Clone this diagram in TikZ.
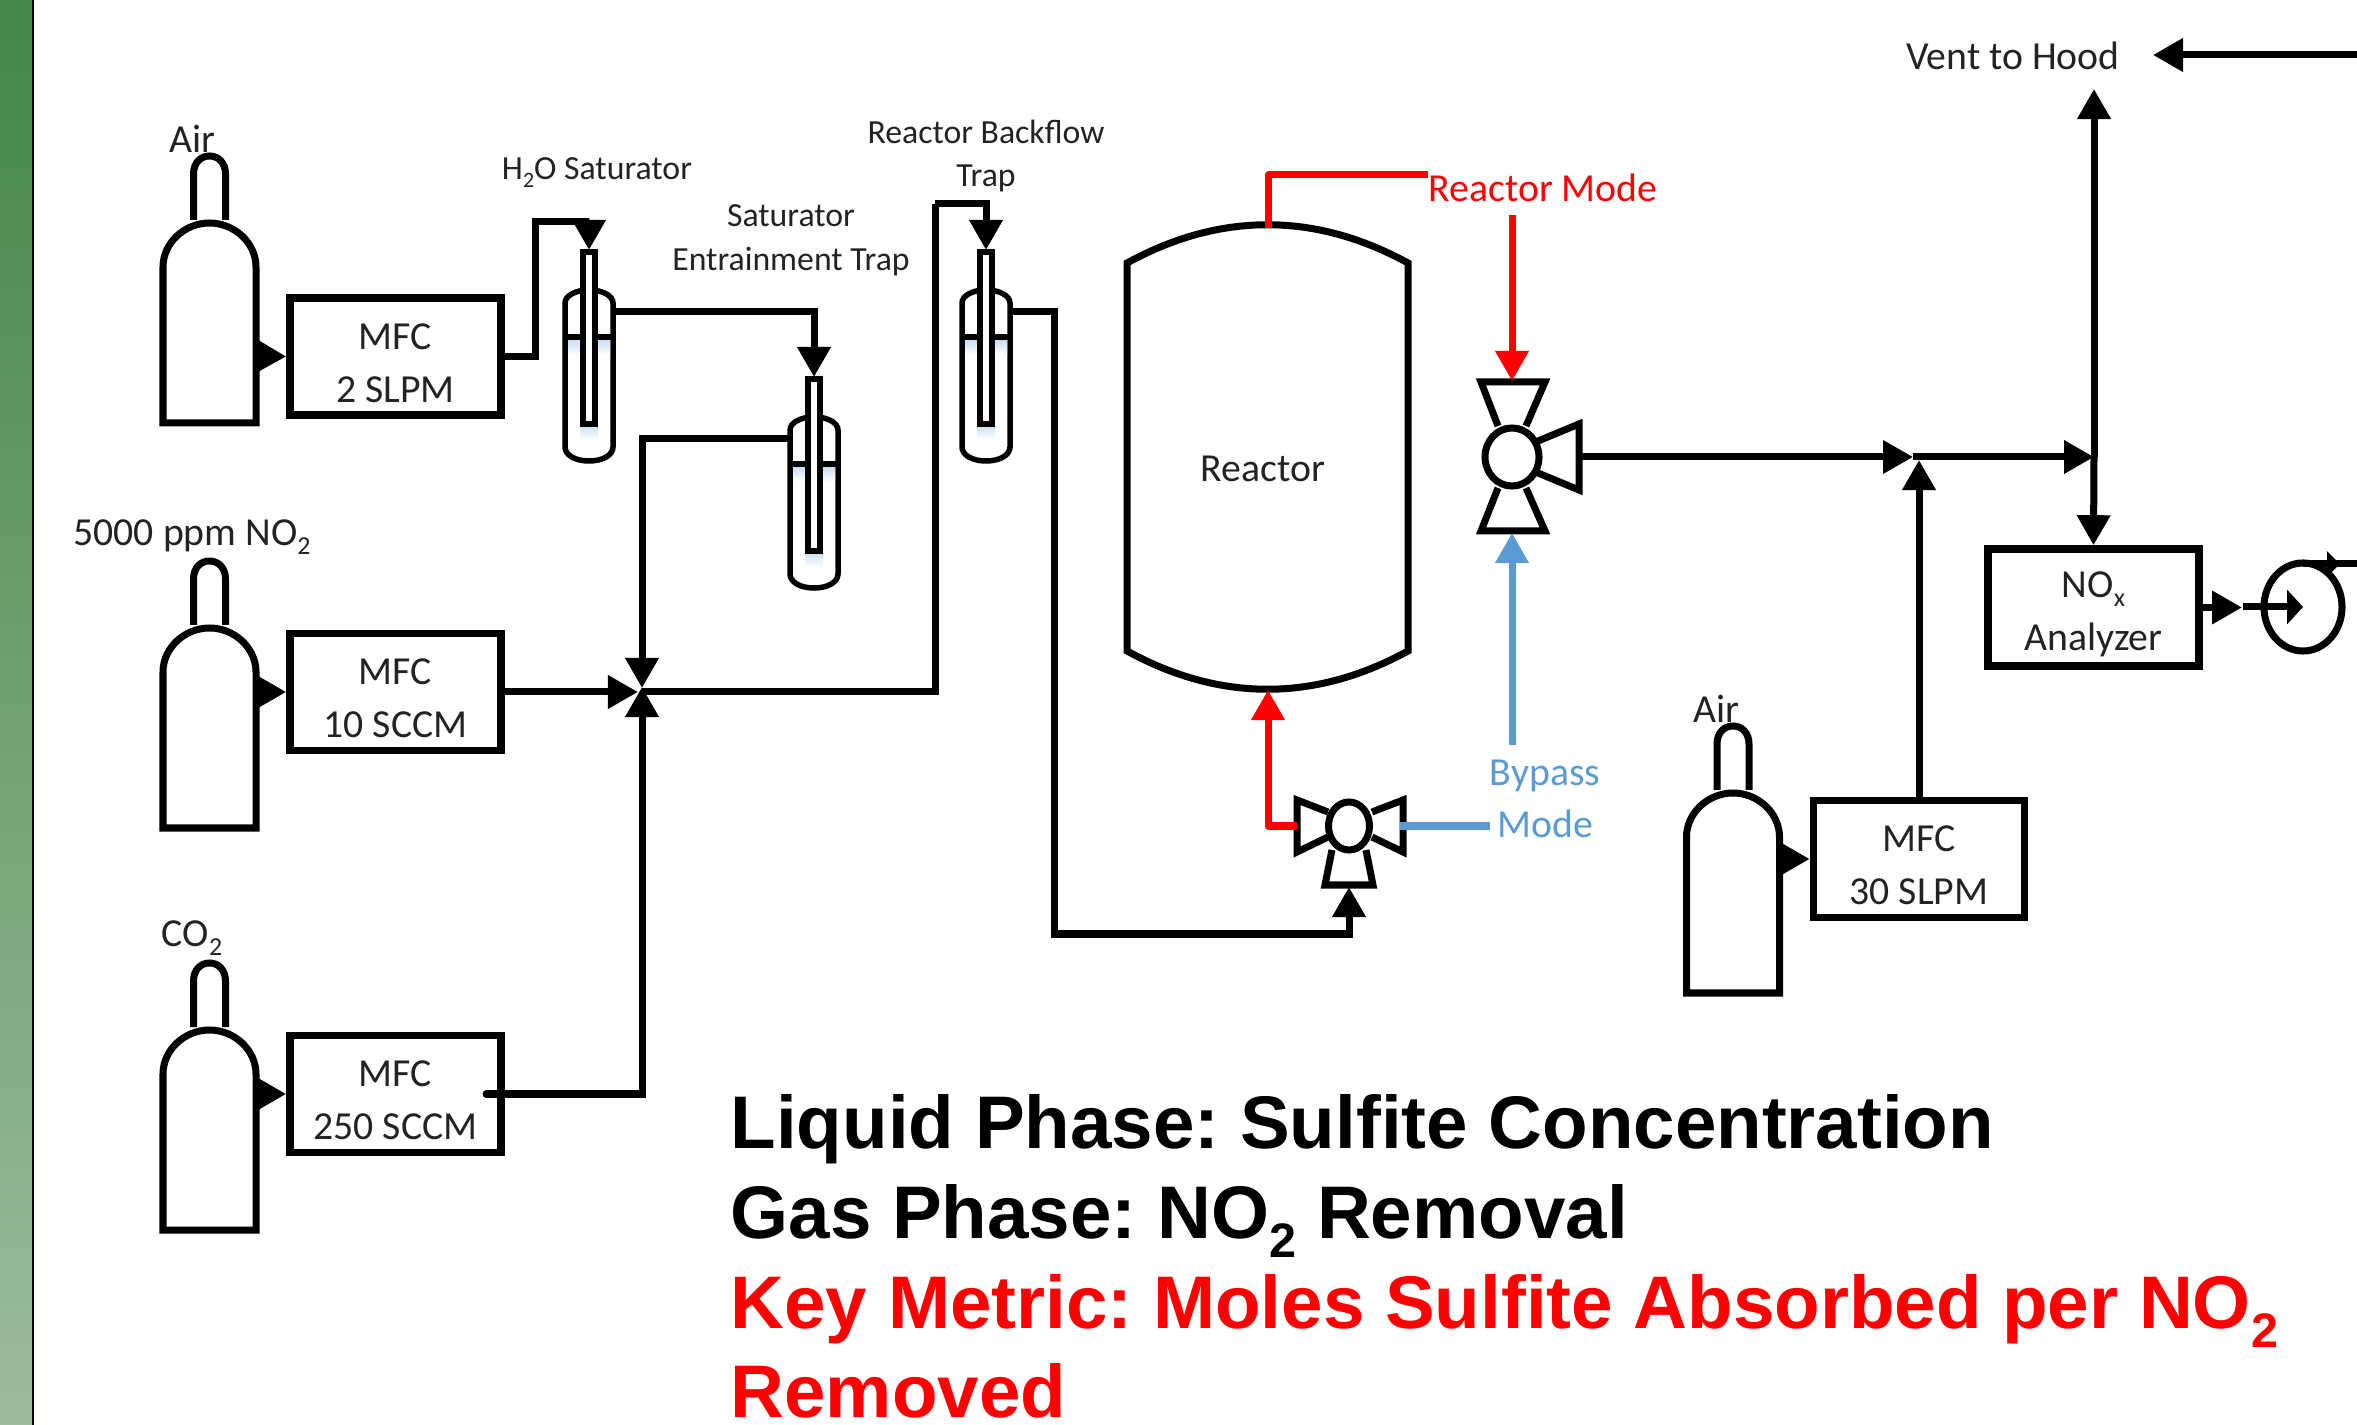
\documentclass[tikz,border=0pt]{standalone}
\usepackage{fontspec}
\setmainfont{Carlito}
\newfontfamily\arialfont{Liberation Sans}
\usetikzlibrary{arrows.meta,shapes.geometric}
\definecolor{bypass}{RGB}{91,155,213}
\definecolor{inktext}{RGB}{35,35,35}
\frenchspacing
\tikzstyle{pipe} = [draw, line width=0.7mm, line join=miter]
\tikzstyle{flow} = [pipe, -{Triangle[length=3mm,width=3.2mm]}]
\tikzstyle{vessel} = [draw, line width=0.7mm, line join=miter, fill=white]
\tikzstyle{glass} = [draw, line width=0.55mm, fill=white]
\tikzstyle{mfc} = [rectangle, draw, line width=0.75mm, minimum width=2.11cm, minimum height=1.17cm, inner sep=0pt, align=center, text=inktext, font=\fontsize{11.3}{15}\selectfont]
\tikzstyle{tag} = [inner sep=0pt, align=center, text=inktext, font=\fontsize{11.3}{15}\selectfont]
\tikzstyle{smalltag} = [inner sep=0pt, align=center, text=inktext, font=\fontsize{9.6}{12.5}\selectfont]
\tikzstyle{metric} = [anchor=base west, inner sep=0pt, font=\arialfont\bfseries\fontsize{21.2}{25}\selectfont]
\newcommand{\lowidx}[1]{\raisebox{-.5ex}{\scalebox{.65}{#1}}}
\newcommand{\boxstrut}{\rule{0pt}{11pt}}
\newcommand{\bottle}[2]{
\begin{scope}[shift={(#1,#2)}]
\draw[vessel](-16,-203)--(-16,-249) .. controls (-16,-260) and (-9,-267) .. (0,-267) .. controls (9,-267) and (16,-260) .. (16,-249)--(16,-203);
\draw[vessel](-46.5,0)--(-46.5,-156) .. controls (-46.5,-180) and (-25,-200) .. (0,-200) .. controls (25,-200) and (46.5,-180) .. (46.5,-156)--(46.5,0)--cycle;
\end{scope}
}
\newcommand{\trap}[3]{
\begin{scope}[shift={(#1,#2)}]
\draw[glass](-24,195)--(-24,51) .. controls (-24,44) and (-14,38) .. (0,38) .. controls (14,38) and (24,44) .. (24,51)--(24,195) .. controls (24,203) and (14,209) .. (0,209) .. controls (-14,209) and (-24,203) .. (-24,195)--cycle;
\shade[top color=bypass!30, bottom color=white](-21,89) rectangle (21,103);
\shade[top color=bypass!30, bottom color=white](-9,174) rectangle (9,188);
\draw[line width=0.55mm](-24,85)--(24,85);
\draw[glass](-6,0) rectangle (6,172);
\coordinate(#3in) at (0,-2);
\coordinate(#3l) at (-24,60);
\coordinate(#3r) at (24,60);
\end{scope}
}
\begin{document}
\begin{tikzpicture}[x=0.01cm, y=-0.01cm]
\useasboundingbox (0,0) rectangle (2357,1425);
\fill[white](0,0) rectangle (2357,1425);
\shade[top color={rgb,255:red,68;green,135;blue,72}, bottom color={rgb,255:red,157;green,187;blue,157}](0,0) rectangle (33,1425);
\draw[line width=0.25mm](33,0)--(33,1425);
\bottle{209.5}{423}
\bottle{209.5}{828}
\bottle{209.5}{1230}
\bottle{1733}{993}
\node(M1)[mfc] at (395.5,356.5) {\boxstrut MFC\\2 SLPM};
\node(M2)[mfc] at (395.5,692) {\boxstrut MFC\\10 SCCM};
\node(M3)[mfc] at (395.5,1094) {\boxstrut MFC\\250 SCCM};
\node(M4)[mfc] at (1919,859) {\boxstrut MFC\\30 SLPM};
\node(AN)[mfc] at (2093.5,607.5) {\boxstrut NO\lowidx{x}\\Analyzer};
\trap{589}{252}{T1}
\trap{814}{379}{T2}
\trap{986}{252}{T3}
\node(A1)[tag] at (192,139) {Air};
\node(A2)[tag] at (192,537) {5000 ppm NO\lowidx{2}};
\node(A3)[tag] at (192,938) {CO\lowidx{2}};
\node(A4)[tag] at (1716,709) {Air};
\node(S1)[smalltag] at (597,173) {H\lowidx{2}O Saturator};
\node(S2)[smalltag] at (791,240) {Saturator\\Entrainment Trap};
\node(S3)[smalltag] at (986,156) {Reactor Backflow\\Trap};
\node(VH)[tag] at (2013,56) {Vent to Hood};
\node(RC)[tag] at (1263,469) {Reactor};
\node(LR)[tag, text=red] at (1543,188) {Reactor Mode};
\node(LB)[tag, text=bypass] at (1545,799) {Bypass\\Mode};
\node(L1)[metric] at (730,1148) {Liquid Phase: Sulfite Concentration};
\node(L2)[metric] at (730,1238) {Gas Phase: NO\lowidx{2} Removal};
\node(L3)[metric, text=red] at (730,1328) {Key Metric: Moles Sulfite Absorbed per NO\lowidx{2}};
\node(L4)[metric, text=red] at (730,1417) {Removed};
\draw[vessel, fill=none](1127,263) .. controls (1220,212) and (1315,212) .. (1408,263)--(1408,651) .. controls (1315,702) and (1220,702) .. (1127,651)--cycle;
\draw[vessel, fill=none](1498,426)--(1481,382)--(1545,382)--(1526,426);
\draw[vessel, fill=none](1498,488)--(1481,531)--(1545,531)--(1526,488);
\draw[vessel, fill=none](1538,441)--(1579,424)--(1579,490)--(1538,473);
\node(V1)[ellipse, vessel, minimum width=0.54cm, minimum height=0.58cm, inner sep=0pt] at (1512,457) {};
\draw[vessel, fill=none](1328,812)--(1297,800)--(1297,852)--(1328,837);
\draw[vessel, fill=none](1372,812)--(1403,800)--(1403,852)--(1372,837);
\draw[vessel, fill=none](1332,850)--(1325,885)--(1373,885)--(1366,850);
\node(V2)[ellipse, vessel, minimum width=0.41cm, minimum height=0.48cm, inner sep=0pt] at (1349,826) {};
\node(P)[ellipse, draw, line width=0.7mm, minimum width=0.78cm, minimum height=0.88cm, inner sep=0pt] at (2303,607) {};
\coordinate(C1) at (256,356);
\coordinate(C2) at (256,692);
\coordinate(C3) at (256,1094);
\coordinate(C4) at (1780,859);
\coordinate(J) at (642,692);
\coordinate(K1) at (535,222);
\coordinate(K2) at (935,204);
\coordinate(K3) at (1054,934);
\coordinate(K4) at (486,1094);
\coordinate(B2) at (1349,887);
\coordinate(RT) at (1268,228);
\coordinate(RB) at (1268,690);
\coordinate(RL) at (1428,175);
\coordinate(RS) at (1512,215);
\coordinate(V1t) at (1512,381);
\coordinate(V1b) at (1512,533);
\coordinate(BS) at (1512,745);
\coordinate(V1r) at (1579,457);
\coordinate(V2l) at (1297,826);
\coordinate(V2r) at (1400,826);
\coordinate(BL) at (1490,826);
\coordinate(G1) at (1913,457);
\coordinate(G2) at (2094,457);
\coordinate(G3) at (1919,460);
\coordinate(H1) at (2094,89);
\coordinate(E1) at (2357,55);
\coordinate(E2) at (2153,55);
\coordinate(E3) at (2357,564);
\coordinate(N1) at (2242,607.5);
\coordinate(N2) at (2243,607);
\coordinate(N3) at (2303,564);
\coordinate(N4) at (2340,564);
\draw[flow](C1)--(M1.west);
\draw[flow](C2)--(M2.west);
\draw[flow](C3)--(M3.west);
\draw[flow](C4)--(M4.west);
\draw[flow](M1.east)-|(K1)-|(T1in);
\draw[flow](T1r)-|(T2in);
\draw[flow, shorten >=0.4mm](T2l)-|(J);
\draw[flow, shorten >=0.4mm](M2.east)--(J);
\draw[flow, line cap=round, shorten >=-0.5mm](K4)-|(J);
\draw[pipe](J)-|(K2);
\draw[flow](K2)-|(T3in);
\draw[flow](T3r)-|(K3)-|(B2);
\draw[flow, red, line join=round](V2l)-|(RB);
\draw[pipe, red, line join=round](RT)|-(RL);
\draw[flow, red](RS)--(V1t);
\draw[flow, bypass](BS)--(V1b);
\draw[pipe, bypass](V2r)--(BL);
\draw[flow](V1r)--(G1);
\draw[flow](G1)--(G2);
\draw[flow](M4.north)--(G3);
\draw[flow](G2)--(H1);
\draw[flow](G2)--(AN.north);
\draw[flow](E1)--(E2);
\draw[flow](AN.east)--(N1);
\draw[pipe, -{Triangle[length=1.6mm,width=3.4mm]}](N2)--(P.center);
\draw[pipe](N3)--(E3);
\draw[pipe, -{Triangle[length=1.3mm,width=2.5mm]}](N3)--(N4);
\end{tikzpicture}
\end{document}
